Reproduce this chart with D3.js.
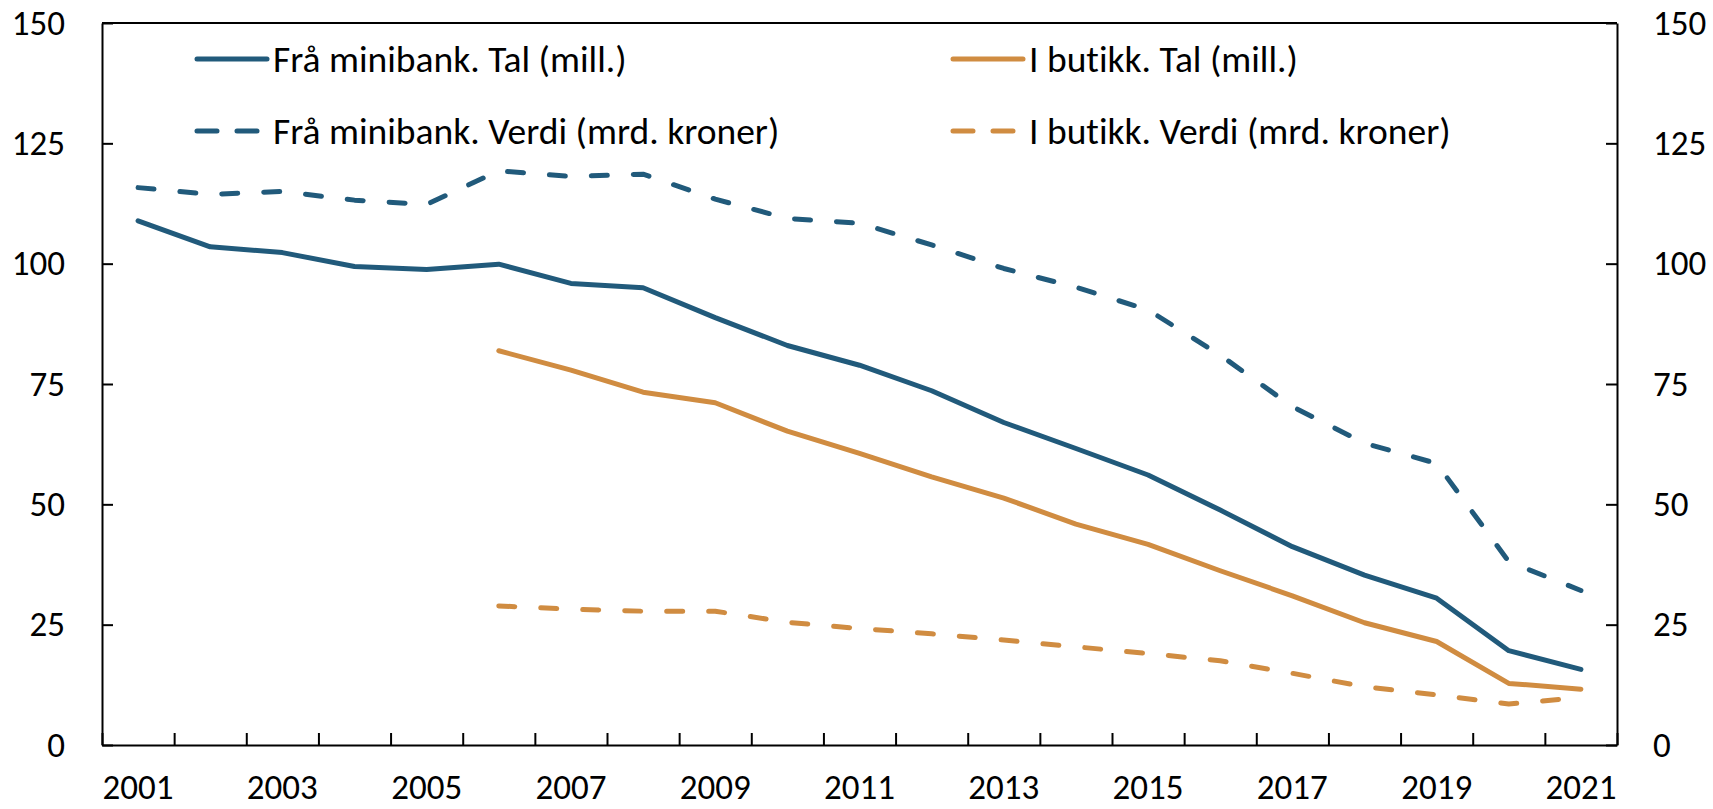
<!DOCTYPE html>
<html>
<head>
<meta charset="utf-8">
<script src="https://cdn.jsdelivr.net/npm/d3@7"></script>
<style>
  html, body { margin: 0; padding: 0; background: #fff; }
  svg { display: block; font-family: Carlito, "Open Sans", sans-serif; font-variant-ligatures: none; font-feature-settings: "liga" 0, "clig" 0; }
</style>
</head>
<body>
<svg id="chart" width="1713" height="809"></svg>
<script>
// ---- data ----
const years = ["2001","2002","2003","2004","2005","2006","2007","2008","2009","2010",
               "2011","2012","2013","2014","2015","2016","2017","2018","2019","2020","2021"];
const xTickLabels = ["2001","2003","2005","2007","2009","2011","2013","2015","2017","2019","2021"];
const yTicks = [0, 25, 50, 75, 100, 125, 150];

const minibankTal   = [108.9, 103.5, 102.3, 99.4, 98.8, 99.9, 95.9, 95.0, 88.8, 83.0,
                       78.9, 73.6, 67.0, 61.6, 56.1, 48.8, 41.2, 35.3, 30.5, 19.6, 15.7];
const minibankVerdi = [115.8, 114.4, 115.0, 113.2, 112.3, 119.3, 118.1, 118.6, 113.4, 109.4,
                       108.4, 103.9, 99.0, 95.1, 90.4, 81.0, 70.3, 62.7, 58.5, 38.1, 32.1];
const butikkTal     = [null, null, null, null, null, 81.9, 77.9, 73.3, 71.1, 65.2,
                       60.6, 55.7, 51.3, 45.9, 41.7, 36.2, 31.0, 25.4, 21.5, 12.8, 11.6];
const butikkVerdi   = [null, null, null, null, null, 28.9, 28.2, 27.8, 27.8, 25.5,
                       24.2, 23.1, 21.8, 20.4, 19.0, 17.5, 14.9, 12.1, 10.4, 8.5, 9.9];

const seriesNames = ["Frå minibank. Tal (mill.)", "Frå minibank. Verdi (mrd. kroner)",
                     "I butikk. Tal (mill.)", "I butikk. Verdi (mrd. kroner)"];
const BLUE = "#215a7b", ORANGE = "#d08c41";

const series = [
  { name: seriesNames[0], values: minibankTal,   color: BLUE,   dashed: false },
  { name: seriesNames[1], values: minibankVerdi, color: BLUE,   dashed: true  },
  { name: seriesNames[2], values: butikkTal,     color: ORANGE, dashed: false },
  { name: seriesNames[3], values: butikkVerdi,   color: ORANGE, dashed: true  }
];

// ---- layout ----
const L = 102, R = 1617, T = 23, B = 745;
const FONT = 'Carlito, "Open Sans", sans-serif';
const svg = d3.select("#chart");

const x = d3.scaleBand().domain(years).range([L, R]).paddingInner(0).paddingOuter(0);
const xb = d3.scaleLinear().domain([0, years.length]).range([L, R]);
const y = d3.scaleLinear().domain([0, 150]).range([B, T]);

const axisFont = "35px";

// frame top line
svg.append("line").attr("x1", L).attr("x2", R).attr("y1", T).attr("y2", T)
  .attr("stroke", "#000").attr("stroke-width", 2);

// left axis
const gl = svg.append("g").attr("transform", `translate(${L},0)`)
  .call(d3.axisLeft(y).tickValues(yTicks).tickSizeInner(-11).tickSizeOuter(0).tickPadding(37));
// right axis
const gr = svg.append("g").attr("transform", `translate(${R},0)`)
  .call(d3.axisRight(y).tickValues(yTicks).tickSizeInner(-11).tickSizeOuter(0).tickPadding(36));
// x axis ticks at category boundaries
const gxt = svg.append("g").attr("transform", `translate(0,${B})`)
  .call(d3.axisBottom(xb).tickValues(d3.range(0, years.length + 1)).tickSizeInner(-12).tickSizeOuter(0).tickFormat(""));
// x labels
const gx = svg.append("g").attr("transform", `translate(0,${B})`)
  .call(d3.axisBottom(x).tickValues(xTickLabels).tickSize(0).tickPadding(29));
gx.select(".domain").remove();

[gl, gr, gxt, gx].forEach(g => {
  g.selectAll(".domain").attr("stroke", "#000").attr("stroke-width", 2);
  g.selectAll(".tick line").attr("stroke", "#000").attr("stroke-width", 2);
  g.selectAll("text").attr("fill", "#000").style("font-size", axisFont).style("font-family", FONT);
});

// ---- lines ----
const line = d3.line()
  .defined(d => d != null)
  .x((d, i) => x(years[i]) + x.bandwidth() / 2)
  .y(d => y(d));

series.forEach(s => {
  svg.append("path")
    .datum(s.values)
    .attr("d", line)
    .attr("fill", "none")
    .attr("stroke", s.color)
    .attr("stroke-width", 5)
    .attr("stroke-linejoin", "round")
    .attr("stroke-linecap", "round")
    .attr("stroke-dasharray", s.dashed ? "16,26" : null);
});

// ---- legend ----
const legendPos = [
  { x: 197, y: 59 }, { x: 197, y: 131 }, { x: 953, y: 59 }, { x: 953, y: 131 }
];
series.forEach((s, i) => {
  const p = legendPos[i];
  const g = svg.append("g").attr("transform", `translate(${p.x},${p.y})`);
  g.append("line").attr("x1", 0).attr("x2", s.dashed ? 64 : 70).attr("y1", 0).attr("y2", 0)
    .attr("stroke", s.color).attr("stroke-width", 5).attr("stroke-linecap", "round")
    .attr("stroke-dasharray", s.dashed ? "20,20" : null);
  g.append("text").attr("x", 76).attr("y", 0).attr("dy", "0.35em")
    .style("font-size", "37.5px").style("font-family", FONT).attr("fill", "#000").text(s.name);
});
</script>
</body>
</html>
